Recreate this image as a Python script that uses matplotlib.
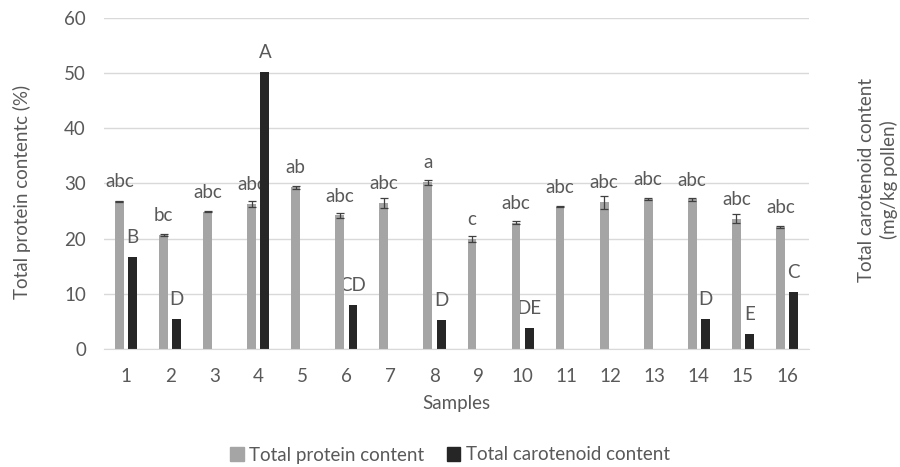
import numpy as np
import matplotlib.pyplot as plt
from matplotlib.patches import Patch

plt.rcParams['font.family'] = ['Lato', 'DejaVu Sans']

# data
samples = [str(i) for i in range(1, 17)]
protein = [26.8, 20.7, 24.9, 26.3, 29.3, 24.2, 26.5, 30.2,
           19.9, 22.9, 25.8, 26.6, 27.2, 27.1, 23.6, 22.1]
protein_err = [0.1, 0.15, 0.1, 0.5, 0.3, 0.4, 0.9, 0.4,
               0.5, 0.3, 0.1, 1.2, 0.2, 0.35, 0.8, 0.2]
protein_letters = ['abc', 'bc', 'abc', 'abc', 'ab', 'abc', 'abc', 'a',
                   'c', 'abc', 'abc', 'abc', 'abc', 'abc', 'abc', 'abc']
carotenoid = [16.6, 5.45, np.nan, 50.2, np.nan, 7.9, np.nan, 5.3,
              np.nan, 3.75, np.nan, np.nan, np.nan, 5.45, 2.65, 10.4]
carotenoid_letters = ['B', 'D', '', 'A', '', 'CD', '', 'D',
                      '', 'DE', '', '', '', 'D', 'E', 'C']

txt = '#595959'
c_prot = '#a5a5a5'
c_car = '#262626'
fs = 13.5

fig = plt.figure(figsize=(9, 4.67), dpi=100)
ax = fig.add_axes([0.1156, 0.2527, 0.7833, 0.7088])

x = np.arange(len(samples))
w = 0.2
off = 0.15

ax.bar(x - off, protein, w, color=c_prot, zorder=2,
       yerr=protein_err, error_kw=dict(ecolor='#404040', elinewidth=0.9, capsize=3, capthick=0.9))
ax.bar(x + off, carotenoid, w, color=c_car, zorder=2)

# significance letters above the bars
for i in range(len(samples)):
    ax.annotate(protein_letters[i], (x[i] - off, protein[i]), xytext=(0, 14),
                textcoords='offset points', ha='center', va='center',
                fontsize=fs, color=txt, zorder=1)
    if carotenoid_letters[i]:
        ax.annotate(carotenoid_letters[i], (x[i] + off, carotenoid[i]), xytext=(0, 14),
                    textcoords='offset points', ha='center', va='center',
                    fontsize=fs, color=txt, zorder=1)

ax.set_xlim(-0.5, len(samples) - 0.5)
ax.set_ylim(0, 60)
ax.set_yticks(range(0, 61, 10))
ax.set_xticks(x)
ax.set_xticklabels(samples)
ax.yaxis.grid(True, color='#d9d9d9', linewidth=1, zorder=0)
ax.set_axisbelow(True)
for s in ['top', 'right', 'left']:
    ax.spines[s].set_visible(False)
ax.spines['bottom'].set_color('#d9d9d9')
ax.tick_params(axis='both', length=0, colors=txt, labelsize=fs)
ax.tick_params(axis='y', pad=13)
ax.tick_params(axis='x', pad=14)

ax.set_xlabel('Samples', color=txt, fontsize=fs, labelpad=7)
fig.text(0.024, 1 - 192 / 467, 'Total protein contentc (%)', rotation=90, ha='center', va='center',
         color=txt, fontsize=fs)
fig.text(0.9756, 1 - 180 / 467, 'Total carotenoid content\n(mg/kg pollen)', rotation=90,
         ha='center', va='center', color=txt, fontsize=fs, linespacing=1.3)

handles = [Patch(color=c_prot, label='Total protein content'),
           Patch(color=c_car, label='Total carotenoid content')]
fig.legend(handles=handles, loc='center', bbox_to_anchor=(0.5, 1 - 455 / 467), ncol=2,
           frameon=False, fontsize=fs, labelcolor=txt, handlelength=0.7, handleheight=0.7,
           handletextpad=0.3, columnspacing=1.2)

fig.savefig('out.png', dpi=100)
